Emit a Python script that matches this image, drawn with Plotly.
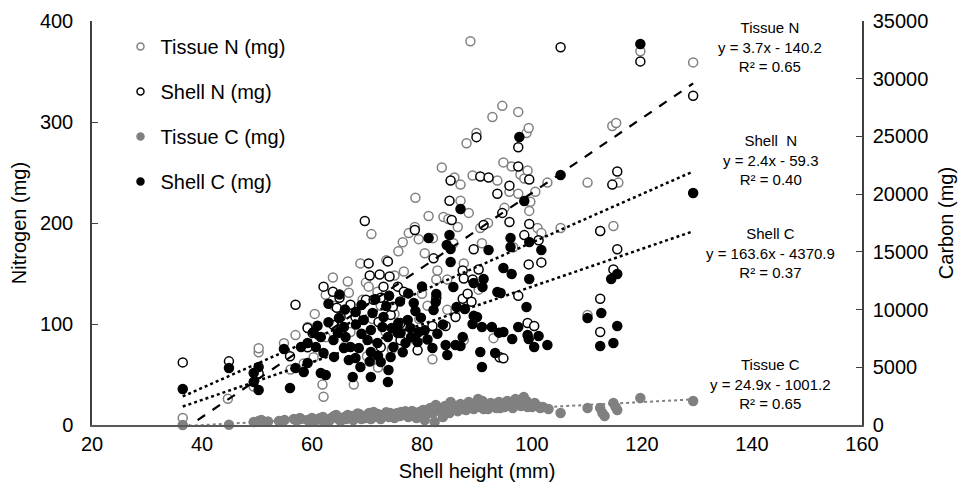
import numpy as np
import plotly.graph_objects as go

# ---------------- data ----------------
tissue_n_x = [36.5, 44.7, 49.4, 50.3, 50.3, 54.9, 56.1, 57.0, 59.2, 58.5, 60.3, 61.9, 62.1, 62.5, 62.5, 63.8,
              65.2, 66.5, 66.7, 67.0, 67.6, 69.2, 69.8, 70.3, 70.8, 71.9, 73.4, 75.7, 76.5, 76.7, 77.6, 78.7,
              78.8, 78.8, 79.4, 81.2, 81.9, 82.6, 82.8, 83.6, 83.9, 84.6, 84.6, 84.8, 85.7, 85.9, 86.1, 87.0,
              87.0, 87.6, 87.6, 88.1, 88.8, 89.2, 89.9, 90.3, 90.6, 90.9, 92.8, 93.0, 93.7, 94.3, 94.6, 94.8,
              95.9, 96.3, 96.6, 97.5, 97.5, 97.9, 98.6, 99.0, 99.2, 99.4, 99.5, 99.7, 100.6, 101.0, 101.7, 102.8,
              105.2, 110.1, 110.1, 112.4, 114.6, 114.8, 115.3, 115.7, 119.7, 129.3,
              60.5, 64.0, 68.0, 71.0, 72.5, 74.0, 75.0, 77.0, 80.0, 81.0, 66.0, 70.0, 72.0, 74.5, 79.5,
              73.5, 75.0, 68.8, 80.5, 82.0, 86.5, 88.5, 92.0, 95.0]
tissue_n_y = [7, 26, 38, 72, 76, 81, 55, 89, 97, 61, 67, 40, 28, 87, 129, 146,
              97, 142, 131, 92, 40, 124, 141, 137, 189, 132, 92, 172, 181, 152, 190, 196,
              225, 84, 184, 207, 65, 144, 153, 255, 206, 144, 114, 204, 180, 245, 114, 238,
              222, 160, 84, 279, 380, 247, 289, 134, 195, 180, 305, 86, 242, 67, 316, 260,
              231, 256, 176, 310, 229, 248, 244, 289, 252, 294, 212, 221, 231, 195, 190, 240,
              195, 240, 109, 192, 296, 197, 299, 240, 370, 359,
              110, 118, 112, 105, 118, 128, 110, 100, 130, 118, 78, 68, 57, 75, 105,
              163, 148, 160, 170, 185, 196, 210, 200, 215]

shell_n_x = [36.5, 44.9, 50.3, 56.0, 57.0, 59.2, 59.2, 59.2, 60.1, 62.1, 63.8, 63.9, 64.5, 65.0, 65.2, 67.0,
             67.9, 69.6, 69.8, 70.3, 70.5, 71.2, 72.1, 72.3, 72.5, 72.5, 73.0, 73.8, 74.1, 74.3, 74.7, 75.6,
             76.1, 76.1, 76.7, 78.7, 79.2, 81.9, 82.1, 82.6, 84.3, 85.0, 85.2, 85.4, 86.1, 87.4, 87.4, 87.6,
             88.3, 89.0, 89.2, 89.4, 89.9, 90.3, 90.6, 91.2, 92.1, 93.7, 94.1, 94.6, 94.8, 95.9, 95.9, 97.5,
             97.5, 97.5, 98.6, 99.2, 99.4, 99.5, 99.5, 100.4, 101.2, 101.7, 105.2, 112.4, 112.4, 112.4, 114.6,
             114.8, 115.5, 115.5, 119.7, 129.3]
shell_n_y = [62, 63, 51, 68, 119, 78, 96, 77, 91, 137, 132, 99, 116, 126, 107, 119,
             107, 202, 124, 160, 148, 124, 102, 149, 126, 77, 137, 162, 147, 109, 117, 137,
             101, 84, 132, 193, 74, 98, 165, 126, 98, 222, 242, 203, 107, 153, 125, 145,
             130, 122, 144, 174, 285, 154, 246, 198, 245, 229, 67, 210, 66, 201, 237, 256,
             275, 128, 188, 101, 159, 243, 199, 98, 183, 161, 374, 125, 92, 192, 238,
             154, 251, 174, 360, 326]

tissue_c_x = [36.5, 44.9, 49.4, 50.3, 50.8, 55.0, 56.7, 57.2, 59.2, 60.0, 60.5, 61.2, 62.0, 62.5, 63.0, 63.5,
              64.0, 64.8, 65.2, 65.9, 66.5, 67.0, 67.5, 68.0, 68.6, 69.0, 69.5, 70.0, 70.4, 70.9, 71.5, 72.0,
              72.5, 73.0, 73.5, 74.0, 74.5, 75.0, 75.5, 76.0, 76.5, 77.0, 77.5, 78.0, 78.5, 79.0, 79.5, 80.0,
              80.5, 81.0, 81.5, 82.0, 82.3, 82.8, 83.3, 83.8, 84.2, 84.6, 85.0, 85.5, 86.0, 86.5, 87.0, 87.5,
              88.0, 88.5, 89.0, 89.4, 90.0, 90.5, 91.0, 91.5, 92.0, 92.5, 93.0, 93.5, 94.0, 94.5, 95.0, 95.5,
              96.0, 96.5, 97.0, 97.5, 98.0, 98.5, 99.0, 99.5, 100.0, 100.5, 101.0, 101.5, 102.0, 103.0, 105.2,
              110.1, 112.4, 112.8, 113.2, 114.8, 115.2, 115.5, 119.7, 129.3,
              58.0, 59.7, 61.5, 63.3, 64.4, 66.2, 67.3, 68.3, 69.2, 70.7, 71.2, 72.2, 73.3, 74.2, 75.3, 76.2,
              77.2, 78.2, 79.2, 80.2, 81.2, 82.5, 83.5, 84.5, 85.2, 86.2, 87.2, 88.2, 89.2, 90.2, 91.2, 92.2,
              93.2, 94.2, 95.2, 96.2, 97.2, 98.2, 99.2, 100.2, 52.0, 54.0, 57.8, 61.8, 65.5, 69.8]
tissue_c_y = [0, 20, 260, 350, 430, 433, 520, 380, 430, 600, 350, 520, 700, 430, 300, 600,
              780, 520, 350, 700, 870, 600, 430, 780, 950, 520, 700, 870, 1040, 600, 780, 950,
              520, 870, 1100, 700, 950, 600, 1040, 780, 950, 1200, 700, 870, 1040, 600, 1130, 870,
              430, 1300, 1470, 1040, 260, 1560, 1200, 700, 1650, 1300, 1040, 1730, 1470, 1200, 1820, 1560,
              1300, 1990, 1650, 1390, 1820, 1560, 2080, 1730, 1390, 1900, 1650, 1470, 1990, 1730, 1560, 2080,
              1820, 1470, 2250, 1900, 1650, 2420, 2080, 1730, 1560, 1900, 1650, 1470, 1560, 1390, 1040,
              1470, 1470, 1040, 780, 1900, 1560, 1300, 2340, 2080,
              520, 430, 610, 480, 870, 520, 780, 1000, 610, 520, 1130, 690, 780, 1040, 870, 1130,
              870, 1210, 950, 1300, 1040, 1730, 1390, 1470, 1990, 1650, 1390, 1730, 1560, 2250, 1390, 1650,
              1820, 1470, 1820, 1650, 1730, 1910, 1560, 1820, 300, 350, 610, 430, 520, 610]

shell_c_x = [36.5, 44.9, 49.4, 49.4, 50.3, 50.3, 54.9, 56.0, 57.0, 59.2,
             59.2, 60.7, 62.1, 63.9, 65.8, 66.1, 67.0, 66.7, 67.9, 68.8, 67.4, 70.7, 73.8, 73.9, 72.5, 70.7,
             70.1, 70.7, 69.4, 71.0, 73.0, 72.8, 73.8, 74.8, 76.1, 75.7, 77.4, 77.9, 77.0, 79.4, 79.2, 81.9,
             84.6, 84.3, 86.1, 87.0, 87.4, 90.6, 90.9, 93.3, 58.5, 61.6, 62.5, 64.7, 65.8, 68.5, 71.9, 74.3,
             75.6, 60.3, 61.6, 58.0, 64.9, 67.9,
             78.5, 78.8, 82.6, 82.5, 82.1, 81.2, 85.0, 84.5, 85.2, 85.2, 85.7, 89.4, 91.2, 91.0, 93.7, 92.1, 87.0,
             94.8, 96.3, 99.5, 96.1, 96.1, 99.5, 101.7, 94.3, 99.0, 97.5, 94.8, 96.4, 99.2, 99.4, 101.2, 100.4,
             102.8, 97.7, 98.6, 105.2, 112.6, 110.1, 115.5, 114.8, 112.4, 115.5, 114.4, 119.7, 129.3,
             86.3, 87.8, 89.4, 90.0, 89.2, 90.9, 92.7, 94.0,
             61.0, 63.0, 64.0, 66.0, 69.0, 70.5, 72.0, 73.5, 74.5, 76.5, 78.0, 79.8, 80.5, 81.0, 82.8, 83.8,
             68.0, 69.0, 71.5, 74.0, 76.0, 77.5, 80.0, 63.0, 65.0]
shell_c_y = [3119, 4938, 4505, 3725, 5025, 3032, 6584, 3205, 4938, 5371,
             7104, 6757, 6237, 7364, 8490, 7624, 6757, 5631, 5804, 5025, 4158, 4158, 3725, 4765, 5458, 6324,
             7364, 8230, 9096, 9703, 9356, 8490, 7624, 6757, 7970, 8836, 9096, 8403, 7104, 8057, 7190, 6670,
             6064, 6930, 6930, 6844, 7624, 6324, 5025, 6237, 4591, 4505, 4331, 7970, 6670, 6670, 7104, 5891,
             7970, 8057, 7624, 6757, 9270, 9790,
             10569, 9876, 11348, 10655, 9962, 16200, 16460, 15593, 15247, 14120, 11955, 12300, 12650, 11955,
             11520, 15160, 18712,
             13600, 13080, 12650, 16200, 15420, 15853, 15160, 11435, 10222, 8490, 8057, 7450, 7797, 7450, 7710,
             6757, 6930, 24950, 19405, 21658, 9703, 9270, 8576, 7104, 6844, 13080, 12650, 33006, 20098,
             10222, 10050, 9456, 9356, 8750, 8490, 8490, 8000,
             8600, 8900, 5900, 10000, 7900, 5500, 6000, 10300, 8400, 6300, 7600, 9300, 8200, 7400, 7900, 8700,
             8700, 10400, 10900, 11200, 10700, 11400, 12000, 10500, 11300]

# trend line coefficients (slope, intercept) and labels
trend_names = ["Tissue N", "Shell  N", "Shell C", "Tissue C"]
trend_slope = [3.7, 2.4, 163.6, 24.9]
trend_icept = [-140.2, -59.3, -4370.9, -1001.2]
trend_r2 = ["0.65", "0.40", "0.37", "0.65"]
label_y_n = [374, 262, 170, 40.6]   # annotation anchor heights (nitrogen axis units)

series_names = ["Tissue N (mg)", "Shell N (mg)", "Tissue C (mg)", "Shell C (mg)"]

FONT = "Liberation Sans, Arial, sans-serif"
GRAY = "#808080"

fig = go.Figure()

def marker(color, filled, size):
    return dict(size=size, symbol="circle", color=color if filled else "white",
                line=dict(color=color, width=1.5))

data_sets = [(tissue_n_x, tissue_n_y, GRAY, False, "y"),
             (shell_n_x, shell_n_y, "black", False, "y"),
             (tissue_c_x, tissue_c_y, GRAY, True, "y2"),
             (shell_c_x, shell_c_y, "black", True, "y2")]

for name, (x, y, col, filled, ax) in zip(series_names, data_sets):
    fig.add_trace(go.Scatter(x=x, y=y, name=name, mode="markers", yaxis=ax, cliponaxis=False,
                             showlegend=False, marker=marker(col, filled, 9)))

# trend lines
series_x = [tissue_n_x, shell_n_x, shell_c_x, tissue_c_x]
axes = ["y", "y", "y2", "y2"]
styles = [dict(color="black", width=2.2, dash="dash"),
          dict(color="black", width=2.5, dash="dot"),
          dict(color="black", width=2.5, dash="dot"),
          dict(color=GRAY, width=2, dash="dot")]
for sx, m, b, ax, st in zip(series_x, trend_slope, trend_icept, axes, styles):
    xs = np.array([min(sx), max(sx)])
    fig.add_trace(go.Scatter(x=xs, y=m * xs + b, mode="lines", yaxis=ax,
                             line=st, showlegend=False, hoverinfo="skip"))

# legend entries (small symbols as in the reference)
for name, (x, y, col, filled, ax) in zip(series_names, data_sets):
    fig.add_trace(go.Scatter(x=[None], y=[None], name=name, mode="markers", yaxis=ax,
                             legendgroup=name, marker=marker(col, filled, 7)))

for nm, m, b, r2, yy in zip(trend_names, trend_slope, trend_icept, trend_r2, label_y_n):
    fig.add_annotation(x=143.3, y=yy, xref="x", yref="y", showarrow=False,
                       text=f"{nm}<br>y = {m}x - {abs(b)}<br>R² = {r2}",
                       font=dict(family=FONT, size=15, color="black"), align="center")

axis_common = dict(showgrid=False, zeroline=False, showline=True,
                   tickfont=dict(family=FONT, size=20, color="black"),
                   title_font=dict(family=FONT, size=20, color="black"))

# page body has an 8px margin, so the figure is sized/margined to land the plot area
# where the reference has it
fig.update_layout(
    width=971, height=484,
    margin=dict(l=84, r=117, t=13, b=67, autoexpand=False),
    paper_bgcolor="white", plot_bgcolor="white",
    font=dict(family=FONT, color="black"),
    xaxis=dict(range=[20, 160], dtick=20, ticks="", linecolor="#595959", linewidth=2,
               automargin=False, title=dict(text="Shell height (mm)", standoff=10), **axis_common),
    yaxis=dict(range=[0, 400], dtick=100, ticks="inside", ticklen=6, tickcolor="#404040",
               linecolor="#404040", linewidth=1.5, ticklabelstandoff=13, automargin=False,
               title=dict(text="Nitrogen (mg)", standoff=8), **axis_common),
    yaxis2=dict(range=[0, 35000], dtick=5000, tickformat="d", overlaying="y", side="right",
                ticks="inside", ticklen=6, tickcolor="#404040", linecolor="#404040", linewidth=1.5,
                ticklabelstandoff=5, automargin=False,
                title=dict(text="Carbon (mg)", standoff=12), **axis_common),
    legend=dict(x=0.037, y=0.985, xanchor="left", yanchor="top", bgcolor="rgba(0,0,0,0)",
                font=dict(family=FONT, size=20, color="black"), tracegroupgap=16,
                traceorder="grouped", itemsizing="trace"),
    showlegend=True,
)

fig.write_html("out.html")
